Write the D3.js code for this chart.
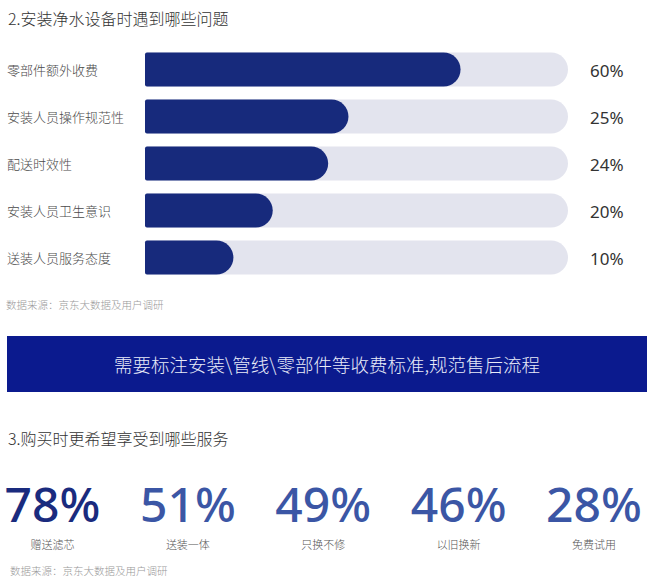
<!DOCTYPE html>
<html>
<head>
<meta charset="utf-8">
<script src="https://cdn.jsdelivr.net/npm/d3@7"></script>
<style>
  html, body { margin: 0; padding: 0; background: #fff; }
  svg { display: block; }
</style>
</head>
<body>
<div id="chart"></div>
<script>
// ---- data ----
const issueTitle = "2.安装净水设备时遇到哪些问题";
const issueCategories = ["零部件额外收费", "安装人员操作规范性", "配送时效性", "安装人员卫生意识", "送装人员服务态度"];
const issueValues = [60, 25, 24, 20, 10];                 // printed percentages
const issueBarShares = [74.6, 48.1, 43.3, 30.2, 20.9];    // drawn bar length, % of the track (as in the picture)
const sourceText = "数据来源：京东大数据及用户调研";
const bannerText = "需要标注安装\\管线\\零部件等收费标准,规范售后流程";
const serviceTitle = "3.购买时更希望享受到哪些服务";
const serviceCategories = ["赠送滤芯", "送装一体", "只换不修", "以旧换新", "免费试用"];
const serviceValues = [78, 51, 49, 46, 28];

// ---- drawing ----
const W = 650, H = 584;
const FONT = "'Noto Sans', 'Noto Sans CJK SC', sans-serif";
const CJK = "'Noto Sans CJK SC', 'Noto Sans', sans-serif";
const svg = d3.select("#chart").append("svg")
  .attr("width", W).attr("height", H)
  .style("font-family", FONT);

svg.append("rect").attr("width", W).attr("height", H).attr("fill", "#fff");

// Section 2 title
svg.append("text").attr("x", 8).attr("y", 25)
  .attr("font-family", CJK).attr("font-weight", 300)
  .attr("font-size", 16).attr("fill", "#333").text(issueTitle);

const y = d3.scaleBand().domain(issueCategories)
  .range([52.5, 274.5]).paddingInner(13 / 47).paddingOuter(0);
const x = d3.scaleLinear().domain([0, 100]).range([145, 568]);

function pill(x0, x1, y0, h) {
  const r = h / 2, rl = 2;
  const p = d3.path();
  p.moveTo(x0 + rl, y0);
  p.lineTo(x1 - r, y0);
  p.arc(x1 - r, y0 + r, r, -Math.PI / 2, Math.PI / 2);
  p.lineTo(x0 + rl, y0 + h);
  p.arcTo(x0, y0 + h, x0, y0 + h - rl, rl);
  p.lineTo(x0, y0 + rl);
  p.arcTo(x0, y0, x0 + rl, y0, rl);
  p.closePath();
  return p.toString();
}

const rows = svg.append("g").selectAll("g")
  .data(issueCategories.map((c, i) => ({ c, v: issueValues[i], s: issueBarShares[i] })))
  .join("g");

rows.append("path")
  .attr("d", d => pill(x(0), x(100), y(d.c), y.bandwidth()))
  .attr("fill", "#e3e4ee");
rows.append("path")
  .attr("d", d => pill(x(0), x(d.s), y(d.c), y.bandwidth()))
  .attr("fill", "#172a7c");
rows.append("text")
  .attr("x", 7).attr("y", d => y(d.c) + y.bandwidth() / 2)
  .attr("dominant-baseline", "central")
  .attr("font-family", CJK).attr("font-weight", 300)
  .attr("font-size", 13).attr("fill", "#4a4a4a")
  .text(d => d.c);
rows.append("text")
  .attr("x", 590).attr("y", d => y(d.c) + y.bandwidth() / 2 + 1)
  .attr("dominant-baseline", "central")
  .attr("font-size", 17).attr("fill", "#333")
  .text(d => d.v + "%");

svg.append("text").attr("x", 6).attr("y", 309)
  .attr("font-family", CJK).attr("font-weight", 300)
  .attr("font-size", 10.5).attr("fill", "#999").text(sourceText);

// Banner
svg.append("rect").attr("x", 7).attr("y", 336).attr("width", 640).attr("height", 56)
  .attr("fill", "#0b1a8e");
svg.append("text").attr("x", 327).attr("y", 364)
  .attr("text-anchor", "middle").attr("dominant-baseline", "central")
  .attr("font-family", CJK).attr("font-weight", 300)
  .attr("font-size", 18.5).attr("fill", "#e8ebf8").text(bannerText);

// Section 3
svg.append("text").attr("x", 8).attr("y", 445)
  .attr("font-family", CJK).attr("font-weight", 300)
  .attr("font-size", 16).attr("fill", "#333").text(serviceTitle);

const xs = d3.scalePoint().domain(serviceCategories).range([52.5, 594]);
const svc = svg.append("g").selectAll("g")
  .data(serviceCategories.map((c, i) => ({ c, v: serviceValues[i], i })))
  .join("g");
svc.append("text")
  .attr("x", d => xs(d.c)).attr("y", 522)
  .attr("text-anchor", "middle")
  .attr("font-weight", 500)
  .attr("font-size", 48).attr("fill", d => d.i === 0 ? "#1a2b7e" : "#3b56a5")
  .text(d => d.v + "%");
svc.append("text")
  .attr("x", d => xs(d.c)).attr("y", 549)
  .attr("text-anchor", "middle")
  .attr("font-family", CJK).attr("font-weight", 300)
  .attr("font-size", 11).attr("fill", "#555")
  .text(d => d.c);

svg.append("text").attr("x", 10).attr("y", 575)
  .attr("font-family", CJK).attr("font-weight", 300)
  .attr("font-size", 10.5).attr("fill", "#999").text(sourceText);
</script>
</body>
</html>
